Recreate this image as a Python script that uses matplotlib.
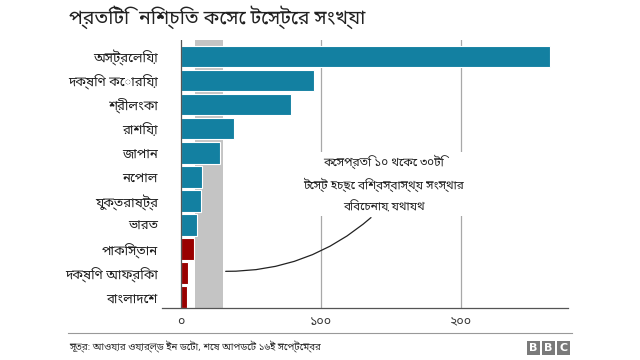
import matplotlib
matplotlib.use('Agg')
import matplotlib.pyplot as plt
import matplotlib.patches as mpatches

plt.rcParams['font.family'] = ['Noto Sans Bengali', 'DejaVu Sans']

# data
countries = ['অস্ট্রেলিয়া', 'দক্ষিণ কোরিয়া', 'শ্রীলংকা', 'রাশিয়া', 'জাপান', 'নেপাল',
             'যুক্তরাষ্ট্র', 'ভারত', 'পাকিস্তান', 'দক্ষিণ আফ্রিকা', 'বাংলাদেশ']
tests_per_case = [264, 95, 79, 38, 28, 15, 14.3, 11.5, 9.3, 5, 4.3]
highlight = [False] * 8 + [True] * 3
who_range = [10, 30]
xticks = [0, 100, 200]
xtick_labels = ['০', '১০০', '২০০']

title = 'প্রতিটি  নিশ্চিত কেসে টেস্টের সংখ্যা'
note = 'কেসপ্রতি ১০ থেকে ৩০টি\nটেস্ট হচ্ছে বিশ্বস্বাস্থ্য সংস্থার\nবিবেচনায় যথাযথ'
source = 'সূত্র: আওয়ার ওয়ার্ল্ড ইন ডেটা, শেষ আপডেট ১৬ই সেপ্টেম্বর'

blue = '#1380a1'
red = '#990000'

fig = plt.figure(figsize=(6.4, 3.6), dpi=100)
ax = fig.add_axes([0.253, 0.144, 0.635, 0.745])

# WHO recommended band
ax.axvspan(who_range[0], who_range[1], color='#c4c4c4', zorder=0, lw=0)

for x in xticks[1:]:
    ax.axvline(x, color='#a8a8a8', lw=0.9, zorder=0.5)
ax.axvline(0, color='#555555', lw=0.9, zorder=3)

ypos = list(range(len(countries)))
colors = [red if h else blue for h in highlight]
ax.barh(ypos, tests_per_case, height=0.9, color=colors, edgecolor='white',
        linewidth=0.8, zorder=2)

ax.set_ylim(len(countries) - 0.55, -0.68)
ax.set_xlim(-13.6, 277)
ax.set_yticks(ypos)
ax.set_yticklabels(countries, fontsize=9.5, color='#222222')
ax.set_xticks(xticks)
ax.set_xticklabels(xtick_labels, fontsize=9, color='#333333')
ax.tick_params(axis='both', length=0)
ax.tick_params(axis='y', pad=3)
ax.tick_params(axis='x', pad=5)
for s in ['top', 'right', 'left']:
    ax.spines[s].set_visible(False)
ax.spines['bottom'].set_color('#555555')
ax.spines['bottom'].set_linewidth(0.9)

ax.annotate(note, xy=(30, 8.92), xytext=(145, 5.3), xycoords='data', textcoords='data',
            ha='center', va='center', fontsize=8.5, color='#222222', linespacing=1.8,
            bbox=dict(boxstyle='square,pad=0.2', fc='white', ec='none'),
            arrowprops=dict(arrowstyle='-', color='#222222', lw=0.9,
                            connectionstyle='arc3,rad=-0.2',
                            relpos=(0.45, 0.0)))

fig.text(0.108, 0.953, title, fontsize=14, fontweight='bold', color='#222222',
         ha='left', va='center')

# footer
fig.add_artist(plt.Line2D([0.106, 0.894], [0.075, 0.075], color='#999999', lw=0.8,
                          transform=fig.transFigure))
fig.text(0.108, 0.036, source, fontsize=7, color='#333333', ha='left', va='center')

for i, letter in enumerate('BBC'):
    x0 = 527 + i * 15
    fig.add_artist(mpatches.Rectangle((x0 / 640, 1 - 355 / 360), 13 / 640, 14 / 360,
                                      transform=fig.transFigure, color='#7a7a7a', lw=0))
    fig.text((x0 + 6.5) / 640, 1 - 348 / 360, letter, fontsize=8, fontweight='bold',
             color='white', ha='center', va='center', family='DejaVu Sans')

fig.savefig('out.png', dpi=100)
